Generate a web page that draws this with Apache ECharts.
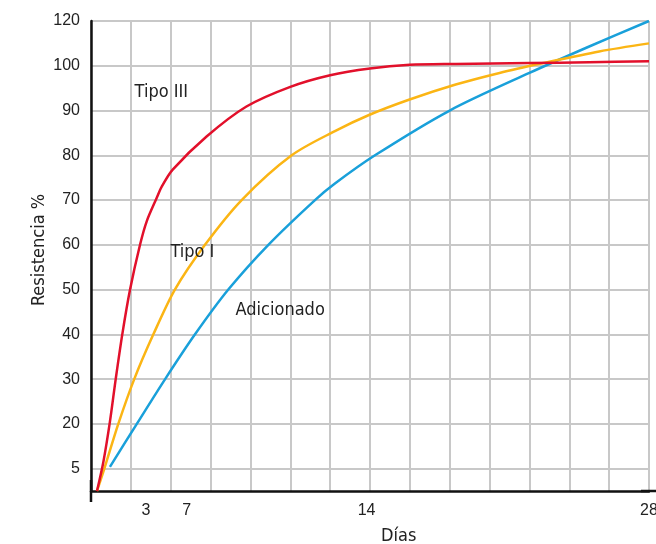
<!DOCTYPE html>
<html><head><meta charset="utf-8">
<script src="https://cdn.jsdelivr.net/npm/echarts@6/dist/echarts.min.js"></script>
<style>html,body{margin:0;padding:0;background:#fff}#c{width:656px;height:544px}</style>
</head><body><div id="c"></div>
<script>
// Data: [day, resistance] (linear value scale)
const tipoIII = [[0.3,5],[0.62,11.5],[0.95,20.5],[1.24,30],[1.57,40],[1.96,50],[2.46,60],[2.8,65.3],[3.3,70.5],[3.55,73],[4.1,76.8],[5.8,84.2],[7.8,90.9],[10,95.3],[12,97.9],[14,99.4],[16,100.2],[18.3,100.4],[22,100.6],[25,100.8],[28,101]];
const tipoI = [[0.3,5],[0.67,10],[1.37,20],[2.17,30],[3.13,40],[4.21,50],[5.72,60],[7.56,70],[10.07,80],[12.24,85.4],[13.95,89],[15.95,92.4],[18.3,95.8],[20.5,98.4],[22.7,100.6],[25.5,103.2],[28,105]];
const adicionado = [[0.95,10.4],[2.3,20],[3.72,30],[5.22,40],[6.89,50],[8.9,60],[11.24,70],[12.24,73.7],[14.25,80],[18,90],[22,98.4],[25,104.3],[28,110]];
const seriesNames = ['Tipo III','Tipo I','Adicionado'];
const seriesLabelAt = [[2.16,94],[3.96,58.3],[7.23,45.3]];
const yTickValues = [10,20,30,40,50,60,70,80,90,100,110];
const yTickLabels = ['5','20','30','40','50','60','70','80','90','100','120'];
const xTickValues = [2.76,4.8,13.83,28];
const xTickLabels = ['3','7','14','28'];

const NARROW = '"DejaVu Sans Condensed","Liberation Sans Narrow",sans-serif';
const REG = '"Liberation Sans",Arial,sans-serif';
const colors = ['#e2102b','#fbb514','#19a0da'];
const dataSets = [tipoIII, tipoI, adicionado];

function lookup(vals, labels){
  return function(v){
    for (let i=0;i<vals.length;i++){ if (Math.abs(vals[i]-v)<1e-6) return labels[i]; }
    return '';
  };
}

const chart = echarts.init(document.getElementById('c'), null, {renderer:'canvas'});
chart.setOption({
  animation:false,
  backgroundColor:'#fff',
  title:{text:'Días', left:381, top:527, padding:0,
    textStyle:{fontFamily:NARROW, fontSize:18, fontWeight:'normal', color:'#222'}},
  grid:{left:91, right:7, top:21, bottom:53, containLabel:false, outerBoundsMode:'none'},
  xAxis:{
    type:'value', min:0, max:28, interval:2,
    axisLine:{show:true, lineStyle:{color:'#111', width:2.5}, symbol:['none','rect'], symbolSize:[2.5,16]},
    axisTick:{show:false},
    splitLine:{show:true, lineStyle:{color:'#c8c8c8', width:2}},
    axisLabel:{customValues:xTickValues, formatter:lookup(xTickValues,xTickLabels),
      margin:12, fontFamily:REG, fontSize:16, color:'#222'}
  },
  yAxis:{
    type:'value', min:5, max:110,
    name:'Resistencia %', nameLocation:'middle', nameRotate:90, nameGap:43, nameMoveOverlap:false,
    nameTextStyle:{fontFamily:NARROW, fontSize:18, color:'#222', padding:[0,0,0,12]},
    axisLine:{show:true, lineStyle:{color:'#111', width:2.5}, symbol:['rect','none'], symbolSize:[2.5,22]},
    axisTick:{show:false, customValues:yTickValues},
    splitLine:{show:true, lineStyle:{color:'#b6b6b6', width:1.5}},
    axisLabel:{customValues:yTickValues, formatter:lookup(yTickValues,yTickLabels),
      margin:11, fontFamily:REG, fontSize:16, color:'#222'}
  },
  series: dataSets.map((d,i)=>({
    name:seriesNames[i], type:'line', data:d, showSymbol:false, symbol:'none',
    smooth:0.3,
    lineStyle:{color:colors[i], width:2.5}, itemStyle:{color:colors[i]},
    z: 3 - i,
    markPoint:{
      symbol:'circle', symbolSize:1, itemStyle:{color:'rgba(0,0,0,0)'},
      label:{show:true, position:'right', distance:0, formatter:seriesNames[i],
        fontFamily:NARROW, fontSize:18, color:'#222'},
      data:[{coord:seriesLabelAt[i], value:seriesNames[i]}]
    }
  }))
});
</script></body></html>
